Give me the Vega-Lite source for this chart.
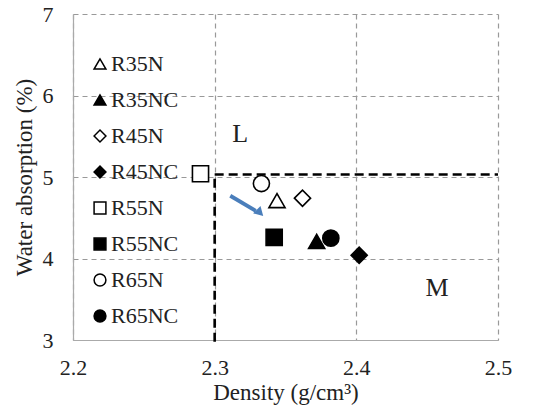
{
  "$schema": "https://vega.github.io/schema/vega-lite/v6.json",
  "width": 425,
  "height": 326,
  "autosize": {"type": "none"},
  "padding": {"left": 73, "top": 14, "right": 35, "bottom": 71},
  "background": "white",
  "config": {
    "view": {"stroke": null},
    "font": "Liberation Serif",
    "axis": {
      "labelFont": "Liberation Serif",
      "titleFont": "Liberation Serif",
      "labelFontSize": 22,
      "titleFontSize": 23,
      "labelColor": "#222",
      "titleColor": "#222",
      "titleFontWeight": "normal",
      "ticks": false,
      "domainColor": "#aaa",
      "domainWidth": 1.2,
      "gridColor": "#999",
      "gridDash": [5, 4],
      "gridWidth": 1.2,
      "gridOpacity": 1
    },
    "legend": {
      "title": null,
      "orient": "none",
      "legendX": 16,
      "legendY": 39,
      "labelFont": "Liberation Serif",
      "labelFontSize": 22,
      "labelColor": "#222",
      "symbolSize": 140,
      "symbolStrokeColor": "black",
      "symbolStrokeWidth": 1.5,
      "rowPadding": 14,
      "labelOffset": 0,
      "symbolOpacity": 1
    }
  },
  "datasets": {
    "pts": [
      {"mix": "R35N", "density": 2.344, "water": 4.71},
      {"mix": "R35NC", "density": 2.372, "water": 4.21},
      {"mix": "R45N", "density": 2.362, "water": 4.74},
      {"mix": "R45NC", "density": 2.402, "water": 4.04},
      {"mix": "R55N", "density": 2.29, "water": 5.04},
      {"mix": "R55NC", "density": 2.342, "water": 4.26},
      {"mix": "R65N", "density": 2.333, "water": 4.92},
      {"mix": "R65NC", "density": 2.382, "water": 4.25}
    ],
    "bounds": [
      {"x": 2.3, "y": 2.98, "x2": 2.3, "y2": 5.03},
      {"x": 2.3, "y": 5.03, "x2": 2.5, "y2": 5.03}
    ],
    "arrow": [{"x": 2.311, "y": 4.77, "x2": 2.329, "y2": 4.585}],
    "head": [{"x": 2.332, "y": 4.56}],
    "labels": [
      {"label": "L", "x": 2.318, "y": 5.53},
      {"label": "M", "x": 2.457, "y": 3.64}
    ]
  },
  "layer": [
    {
      "data": {"name": "bounds"},
      "mark": {"type": "rule", "color": "black", "strokeWidth": 2.6, "strokeDash": [9, 5]},
      "encoding": {
        "x": {"field": "x", "type": "quantitative", "scale": {"domain": [2.2, 2.5], "nice": false, "zero": false},
          "axis": {"values": [2.2, 2.3, 2.4, 2.5], "format": ".1f", "title": "Density (g/cm³)", "labelPadding": 17, "titlePadding": 3, "labelFlush": false}},
        "y": {"field": "y", "type": "quantitative", "scale": {"domain": [3, 7], "nice": false, "zero": false},
          "axis": {"values": [3, 4, 5, 6, 7], "format": "d", "title": "Water absorption (%)", "labelPadding": 20, "titlePadding": 6}},
        "x2": {"field": "x2"},
        "y2": {"field": "y2"}
      }
    },
    {
      "data": {"name": "arrow"},
      "mark": {"type": "rule", "color": "#4a7ebb", "strokeWidth": 3.8},
      "encoding": {
        "x": {"field": "x", "type": "quantitative"},
        "y": {"field": "y", "type": "quantitative"},
        "x2": {"field": "x2"},
        "y2": {"field": "y2"}
      }
    },
    {
      "data": {"name": "head"},
      "mark": {"type": "point", "shape": "triangle-up", "filled": true, "color": "#4a7ebb", "size": 110, "angle": 135, "opacity": 1},
      "encoding": {
        "x": {"field": "x", "type": "quantitative"},
        "y": {"field": "y", "type": "quantitative"}
      }
    },
    {
      "data": {"name": "pts"},
      "mark": {"type": "point", "filled": true, "size": 260, "stroke": "black", "strokeWidth": 1.6, "opacity": 1},
      "encoding": {
        "x": {"field": "density", "type": "quantitative"},
        "y": {"field": "water", "type": "quantitative"},
        "shape": {"field": "mix", "type": "nominal",
          "scale": {"domain": ["R35N", "R35NC", "R45N", "R45NC", "R55N", "R55NC", "R65N", "R65NC"],
            "range": ["triangle-up", "triangle-up", "diamond", "diamond", "square", "square", "circle", "circle"]},
          "legend": {"encode": {"symbols": {"update": {"stroke": {"value": "black"}, "strokeWidth": {"value": 1.5}}}}}},
        "fill": {"field": "mix", "type": "nominal",
          "scale": {"domain": ["R35N", "R35NC", "R45N", "R45NC", "R55N", "R55NC", "R65N", "R65NC"],
            "range": ["white", "black", "white", "black", "white", "black", "white", "black"]},
          "legend": {"encode": {"symbols": {"update": {"stroke": {"value": "black"}, "strokeWidth": {"value": 1.5}}}}}}
      }
    },
    {
      "data": {"name": "labels"},
      "mark": {"type": "text", "font": "Liberation Serif", "fontSize": 26, "color": "#222"},
      "encoding": {
        "x": {"field": "x", "type": "quantitative"},
        "y": {"field": "y", "type": "quantitative"},
        "text": {"field": "label"}
      }
    }
  ]
}
